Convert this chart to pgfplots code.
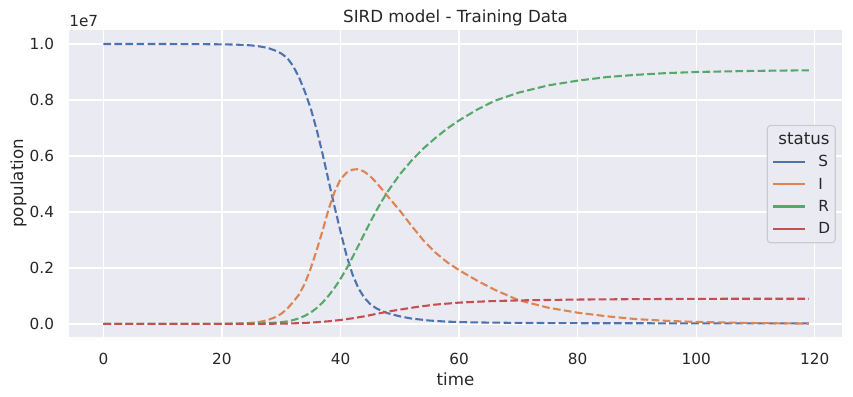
\documentclass[border=0pt]{standalone}
\usepackage{pgfplots}
\usepackage{pgfplotstable}
\pgfplotsset{compat=1.18}
\usepackage{fontspec}
\setmainfont{DejaVu Sans}
\definecolor{cS}{HTML}{4C72B0}
\definecolor{cI}{HTML}{DD8452}
\definecolor{cR}{HTML}{55A868}
\definecolor{cD}{HTML}{C44E52}
\definecolor{bg}{HTML}{EAEAF2}
\definecolor{txt}{HTML}{262626}
\definecolor{legedge}{HTML}{CCCCCC}

% values in units of 1e7
\pgfplotstableread{
t v
0 1.0000
5 1.0000
10 0.9999
15 0.9996
20 0.9988
22 0.9980
24 0.9962
25 0.9948
26 0.9925
27 0.9890
28 0.9840
29 0.9765
30 0.9660
31 0.9505
32 0.9215
33 0.8810
34 0.8290
35 0.7680
36 0.6920
37 0.6050
38 0.5100
39 0.4180
40 0.3300
41 0.2460
42 0.1780
43 0.1280
44 0.0940
45 0.0710
46 0.0560
47 0.0460
48 0.0380
50 0.0270
52 0.0190
55 0.0120
58 0.0080
62 0.0055
70 0.0035
80 0.0025
100 0.0020
119 0.0020
}\dataS

\pgfplotstableread{
t v
0 0.0000
10 0.0000
15 0.0001
20 0.0003
22 0.0008
24 0.0020
25 0.0040
26 0.0060
27 0.0100
28 0.0160
29 0.0240
30 0.0360
31 0.0540
32 0.0780
33 0.1050
34 0.1450
35 0.2000
36 0.2650
37 0.3350
38 0.4100
39 0.4720
40 0.5170
41 0.5400
42 0.5510
43 0.5530
44 0.5440
45 0.5280
46 0.5060
47 0.4810
48 0.4550
50 0.4050
52 0.3500
54 0.2980
56 0.2550
58 0.2200
60 0.1920
63 0.1550
66 0.1220
70 0.0850
75 0.0580
80 0.0400
85 0.0270
90 0.0170
95 0.0110
100 0.0070
110 0.0030
119 0.0010
}\dataI

\pgfplotstableread{
t v
0 0.0000
10 0.0000
20 0.0002
24 0.0008
26 0.0016
28 0.0032
29 0.0045
30 0.0062
31 0.0090
32 0.0135
33 0.0200
34 0.0290
35 0.0410
36 0.0570
37 0.0770
38 0.1010
39 0.1290
40 0.1610
41 0.1970
42 0.2370
43 0.2790
44 0.3210
45 0.3630
46 0.4030
47 0.4400
48 0.4740
50 0.5340
52 0.5840
54 0.6270
56 0.6640
58 0.6980
60 0.7270
63 0.7650
66 0.7970
70 0.8260
75 0.8520
80 0.8690
85 0.8820
90 0.8900
95 0.8960
100 0.9000
110 0.9040
119 0.9060
}\dataR

\pgfplotstableread{
t v
0 0.0000
20 0.0000
25 0.0002
28 0.0005
30 0.0010
32 0.0020
34 0.0035
36 0.0060
38 0.0095
40 0.0140
42 0.0200
44 0.0270
46 0.0355
48 0.0440
50 0.0510
53 0.0610
56 0.0690
60 0.0760
65 0.0810
70 0.0840
80 0.0870
90 0.0885
100 0.0895
110 0.0900
119 0.0900
}\dataD

\begin{document}
\begin{tikzpicture}
\useasboundingbox (-49.7pt,-43.4pt) rectangle (564.5pt,242.4pt);
\begin{axis}[
  at={(0,0)}, anchor=south west,
  scale only axis, width=556.6pt, height=220.8pt,
  xmin=-5.8, xmax=124.6, ymin=-0.0455, ymax=1.05,
  clip mode=individual,
  axis background/.style={fill=bg},
  axis line style={draw=none},
  grid=major, major grid style={white, line width=1pt},
  tick style={draw=none},
  /pgf/number format/assume math mode=true,
  xtick={0,20,40,60,80,100,120},
  xticklabels={0,20,40,60,80,100,120},
  ytick={0,0.2,0.4,0.6,0.8,1.0},
  yticklabels={0.0,0.2,0.4,0.6,0.8,1.0},
  ticklabel style={font=\fontsize{11}{13}\selectfont, text=txt},
  xticklabel style={anchor=north, inner sep=0pt, yshift=-11.5pt},
  yticklabel style={anchor=east, inner sep=0pt, xshift=-10.6pt},
  xlabel={time}, ylabel={population},
  title={SIRD model - Training Data},
  every axis x label/.style={at={(axis description cs:0.5,-0.158)}, anchor=base, font=\fontsize{12}{14}\selectfont, text=txt},
  every axis y label/.style={at={(axis description cs:-0.0595,0.5)}, rotate=90, anchor=base, font=\fontsize{12}{14}\selectfont, text=txt},
  every axis title/.style={at={(axis description cs:0.5,1)}, anchor=base, yshift=5.3pt, font=\fontsize{12}{14}\selectfont, text=txt},
  legend style={at={(axis description cs:1,0.5)}, anchor=east, xshift=-4.5pt, yshift=-0.6pt,
    fill=bg, draw=legedge, line width=0.8pt, rounded corners=2.5pt,
    inner xsep=3.7pt, inner ysep=5.5pt,
    font=\fontsize{11}{13}\selectfont, text=txt,
    row sep=7.1pt, column sep=8.6pt,
    nodes={inner sep=0pt, text height=8pt, text depth=1pt}},
  legend cell align=left,
  legend image code/.code={\draw[solid, line width=1.5pt] (0pt,0pt) -- (23pt,0pt);},
  every axis plot/.append style={line width=1.5pt, dash pattern=on 5.55pt off 2.4pt},
]
\addlegendimage{empty legend}
\addlegendentry{\makebox[0pt][l]{\hspace*{-29.3pt}\fontsize{12}{14}\selectfont status}}
\addplot[cS, no markers] table[x=t, y=v] {\dataS};
\addlegendentry{S}
\addplot[cI, no markers] table[x=t, y=v] {\dataI};
\addlegendentry{I}
\addplot[cR, no markers] table[x=t, y=v] {\dataR};
\addlegendentry{R}
\addplot[cD, no markers] table[x=t, y=v] {\dataD};
\addlegendentry{D}
\end{axis}
\node[anchor=base west, inner sep=0pt, font=\fontsize{11}{13}\selectfont, text=txt] at (0pt,223.2pt) {1e7};
\end{tikzpicture}
\end{document}
